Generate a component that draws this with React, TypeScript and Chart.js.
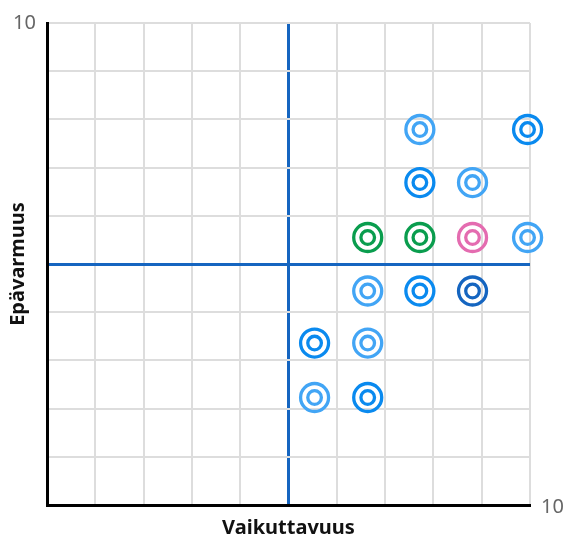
import React, { useEffect, useRef } from "react";
import { Chart, registerables } from "chart.js";

Chart.register(...registerables);

const xValues = [7.72, 9.95, 7.72, 8.81, 6.64, 7.72, 8.81, 9.95, 6.64, 7.72, 8.81, 5.54, 6.64, 5.54, 6.64];
const yValues = [7.79, 7.79, 6.69, 6.69, 5.55, 5.55, 5.55, 5.55, 4.44, 4.44, 4.44, 3.36, 3.36, 2.23, 2.23];
const pointGroups = ["light", "mid", "mid", "light", "green", "green", "pink", "light", "light", "mid", "dark", "mid", "light", "light", "mid"];
const groupNames = ["light", "mid", "dark", "green", "pink"];
const groupColors: Record<string, string> = {
  light: "#42a5f5",
  mid: "#0a8aef",
  dark: "#1565c0",
  green: "#0a9d4e",
  pink: "#e46cb0",
};
const xTitle = "Vaikuttavuus";
const yTitle = "Epävarmuus";
const axisMin = 0;
const axisMax = 10;
const midValue = 5;
const xMaxLabel = "10";
const yMaxLabel = "10";

export default function App() {
  const ref = useRef<HTMLCanvasElement | null>(null);

  useEffect(() => {
    if (!ref.current) return;
    const datasets: any[] = [];
    groupNames.forEach((g) => {
      const pts = xValues
        .map((x, i) => ({ x, y: yValues[i], g: pointGroups[i] }))
        .filter((p) => p.g === g)
        .map((p) => ({ x: p.x, y: p.y }));
      datasets.push({
        label: g + "-outer",
        data: pts,
        pointRadius: 14,
        pointBorderWidth: 3.3,
        pointBorderColor: groupColors[g],
        pointBackgroundColor: "rgba(255,255,255,0)",
        showLine: false,
        clip: false,
      });
      datasets.push({
        label: g + "-inner",
        data: pts,
        pointRadius: 6.8,
        pointBorderWidth: 3.3,
        pointBorderColor: groupColors[g],
        pointBackgroundColor: "rgba(255,255,255,0)",
        showLine: false,
        clip: false,
      });
    });

    const gridColor = (ctx: any) => (ctx.tick && ctx.tick.value === midValue ? "#1565c0" : "#dddddd");
    const gridWidth = (ctx: any) => (ctx.tick && ctx.tick.value === midValue ? 3 : 2);

    const chart = new Chart(ref.current, {
      type: "scatter",
      data: { datasets },
      options: {
        animation: false,
        responsive: true,
        maintainAspectRatio: false,
        events: [],
        layout: { padding: { top: 20, right: 0, left: 0, bottom: 0 } },
        plugins: { legend: { display: false }, tooltip: { enabled: false } },
        scales: {
          x: {
            type: "linear",
            min: axisMin,
            max: axisMax,
            afterFit: (s: any) => {
              s.height = 32;
            },
            ticks: {
              stepSize: 1,
              autoSkip: false,
              maxRotation: 0,
              callback: () => "",
            },
            grid: { color: gridColor, lineWidth: gridWidth, drawTicks: false },
            border: { display: true, color: "#000000", width: 3 },
            title: {
              display: true,
              text: xTitle,
              color: "#111111",
              font: { family: "Noto Sans", size: 20, weight: "bold" },
              padding: { top: 0, bottom: -3 },
            },
          },
          y: {
            type: "linear",
            min: axisMin,
            max: axisMax,
            afterFit: (s: any) => {
              s.width = 47;
            },
            ticks: {
              stepSize: 1,
              autoSkip: false,
              callback: (v: any) => (v === axisMax ? yMaxLabel : ""),
              padding: 11,
              color: "#666666",
              font: { family: "Noto Sans", size: 20 },
            },
            grid: { color: gridColor, lineWidth: gridWidth, drawTicks: false },
            border: { display: true, color: "#000000", width: 3 },
            title: {
              display: true,
              text: yTitle,
              color: "#111111",
              font: { family: "Noto Sans", size: 20, weight: "bold" },
              padding: { top: 6, bottom: 0 },
            },
          },
          xEnd: {
            type: "linear",
            axis: "y",
            position: "right",
            min: axisMin,
            max: axisMax,
            afterFit: (s: any) => {
              s.width = 34;
            },
            ticks: {
              stepSize: 1,
              autoSkip: false,
              callback: (v: any) => (v === axisMin ? xMaxLabel : ""),
              padding: 11,
              labelOffset: 2,
              color: "#666666",
              font: { family: "Noto Sans", size: 20 },
            },
            grid: { display: false, drawTicks: false },
            border: { display: false },
          },
        },
      },
    });
    return () => chart.destroy();
  }, []);

  return (
    <div style={{ position: "absolute", left: 0, top: 0, width: 564, height: 537 }}>
      <canvas ref={ref} />
    </div>
  );
}
